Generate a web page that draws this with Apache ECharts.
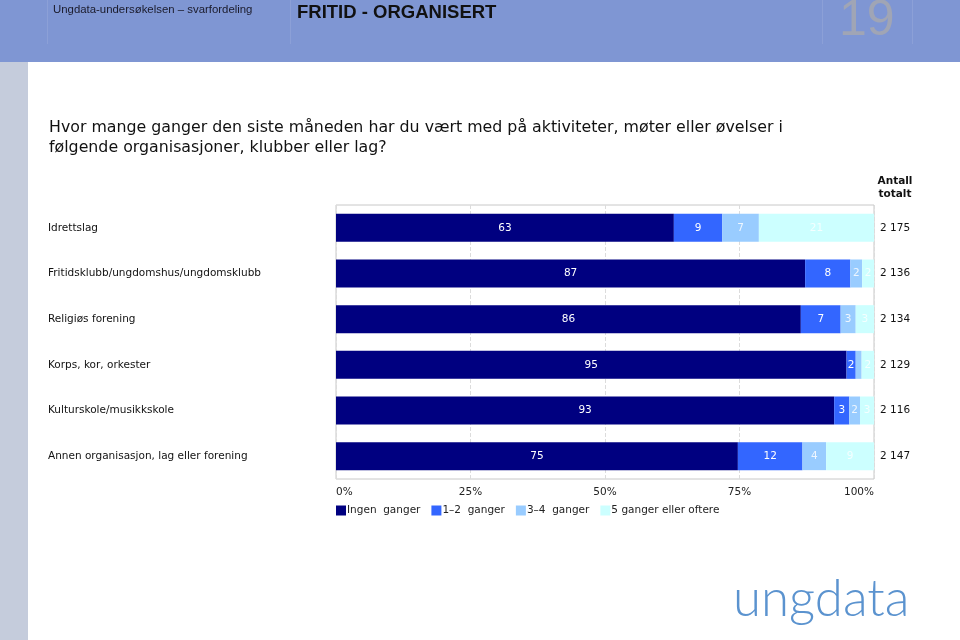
<!DOCTYPE html>
<html>
<head>
<meta charset="utf-8">
<script src="https://cdn.jsdelivr.net/npm/echarts@6/dist/echarts.min.js"></script>
<style>
html,body{margin:0;padding:0;background:#fff;}
#chart{width:960px;height:640px;}
</style>
</head>
<body>
<div id="chart"></div>
<script>
var categories = ['Idrettslag', 'Fritidsklubb/ungdomshus/ungdomsklubb', 'Religiøs forening', 'Korps, kor, orkester', 'Kulturskole/musikkskole', 'Annen organisasjon, lag eller forening'];
var totals = ['2 175', '2 136', '2 134', '2 129', '2 116', '2 147'];
var seriesNames = ['Ingen  ganger', '1–2  ganger', '3–4  ganger', '5 ganger eller oftere'];
var ingen = [62.8, 87.2, 86.4, 94.9, 92.6, 74.7];
var en2 = [9.0, 8.4, 7.4, 1.7, 2.8, 12.0];
var tre4 = [6.8, 2.2, 2.8, 1.1, 2.0, 4.4];
var fem = [21.4, 2.2, 3.4, 2.3, 2.6, 8.9];
var xTicks = ['0%', '25%', '50%', '75%', '100%'];

var colors = ['#000080', '#3366FF', '#99CCFF', '#CCFFFF'];
var labelColors = ['#ffffff', '#ffffff', '#eef6ff', '#f4ffff'];
var font = 'DejaVu Sans, Verdana, sans-serif';
var fs = 10.5;
var values = [ingen, en2, tre4, fem];

var chart = echarts.init(document.getElementById('chart'), null, {renderer: 'canvas'});

var series = values.map(function (arr, i) {
  return {
    name: seriesNames[i],
    type: 'bar',
    stack: 'total',
    data: arr,
    barWidth: 28,
    itemStyle: {color: colors[i]},
    label: {
      show: true,
      position: 'inside',
      color: labelColors[i],
      fontFamily: font,
      fontSize: fs,
      formatter: function (p) { return p.value < 1.5 ? '' : String(Math.round(p.value)); }
    },
    emphasis: {disabled: true}
  };
});

var option = {
  animation: false,
  textStyle: {fontFamily: font},
  grid: {left: 336, top: 205, width: 538, height: 274, show: true, borderColor: '#c8c8c8', borderWidth: 1, containLabel: false},
  xAxis: {
    type: 'value', min: 0, max: 100, interval: 25,
    axisLine: {show: false}, axisTick: {show: false},
    splitLine: {show: true, lineStyle: {color: '#dcdcdc', type: 'dashed'}},
    axisLabel: {
      color: '#222', fontSize: fs, fontFamily: font, margin: 8,
      formatter: function (v) { return xTicks[v / 25]; },
      alignMinLabel: 'left', alignMaxLabel: 'right'
    }
  },
  yAxis: [{
    type: 'category', data: categories, inverse: true,
    axisLine: {show: false}, axisTick: {show: false},
    axisLabel: {color: '#111', fontSize: fs, fontFamily: font, align: 'left', margin: 288}
  }, {
    type: 'category', data: totals, inverse: true, position: 'right',
    axisLine: {show: false}, axisTick: {show: false},
    axisLabel: {color: '#111', fontSize: fs, fontFamily: font, align: 'left', margin: 6}
  }],
  legend: {
    left: 336, top: 505, padding: 0, itemWidth: 10, itemHeight: 10, itemGap: 11,
    icon: 'rect',
    textStyle: {color: '#222', fontSize: fs, fontFamily: font, padding: [0, 0, 0, -4]},
    data: seriesNames
  },
  series: series,
  graphic: [
    {type: 'rect', left: 0, top: 0, shape: {width: 960, height: 62}, style: {fill: '#7f96d3'}, silent: true, z: -1},
    {type: 'rect', left: 0, top: 62, shape: {width: 28, height: 578}, style: {fill: '#c5ccdc'}, silent: true, z: -1},
    {type: 'rect', left: 47, top: 0, shape: {width: 1, height: 44}, style: {fill: 'rgba(255,255,255,0.1)'}, silent: true},
    {type: 'rect', left: 290, top: 0, shape: {width: 1, height: 44}, style: {fill: 'rgba(255,255,255,0.1)'}, silent: true},
    {type: 'rect', left: 822, top: 0, shape: {width: 1, height: 44}, style: {fill: 'rgba(255,255,255,0.1)'}, silent: true},
    {type: 'rect', left: 912, top: 0, shape: {width: 1, height: 44}, style: {fill: 'rgba(255,255,255,0.1)'}, silent: true},
    {type: 'text', left: 53, top: 4, style: {text: 'Ungdata-undersøkelsen – svarfordeling', fill: '#1a1a2a', font: '11.4px "Liberation Sans", Arial, sans-serif'}},
    {type: 'text', left: 297, top: 3, style: {text: 'FRITID - ORGANISERT', fill: '#111', font: 'bold 18.5px "Liberation Sans", Arial, sans-serif'}},
    {type: 'text', left: 839, top: -4, style: {text: '19', fill: '#a0a5b5', font: '50px "Liberation Sans", Arial, sans-serif'}},
    {type: 'text', left: 49, top: 118, style: {text: 'Hvor mange ganger den siste måneden har du vært med på aktiviteter, møter eller øvelser i\nfølgende organisasjoner, klubber eller lag?', fill: '#111', font: '15.8px "DejaVu Sans", Verdana, sans-serif', lineHeight: 20}},
    {type: 'text', x: 895, y: 175, style: {text: 'Antall\ntotalt', fill: '#111', font: 'bold 10.5px "DejaVu Sans", Verdana, sans-serif', align: 'center', lineHeight: 13}},
    {type: 'text', left: 733, top: 574, style: {text: 'ungdata', fill: '#5b93cf', font: '300 51px Lato, "Open Sans", sans-serif'}}
  ]
};
chart.setOption(option);
</script>
</body>
</html>
